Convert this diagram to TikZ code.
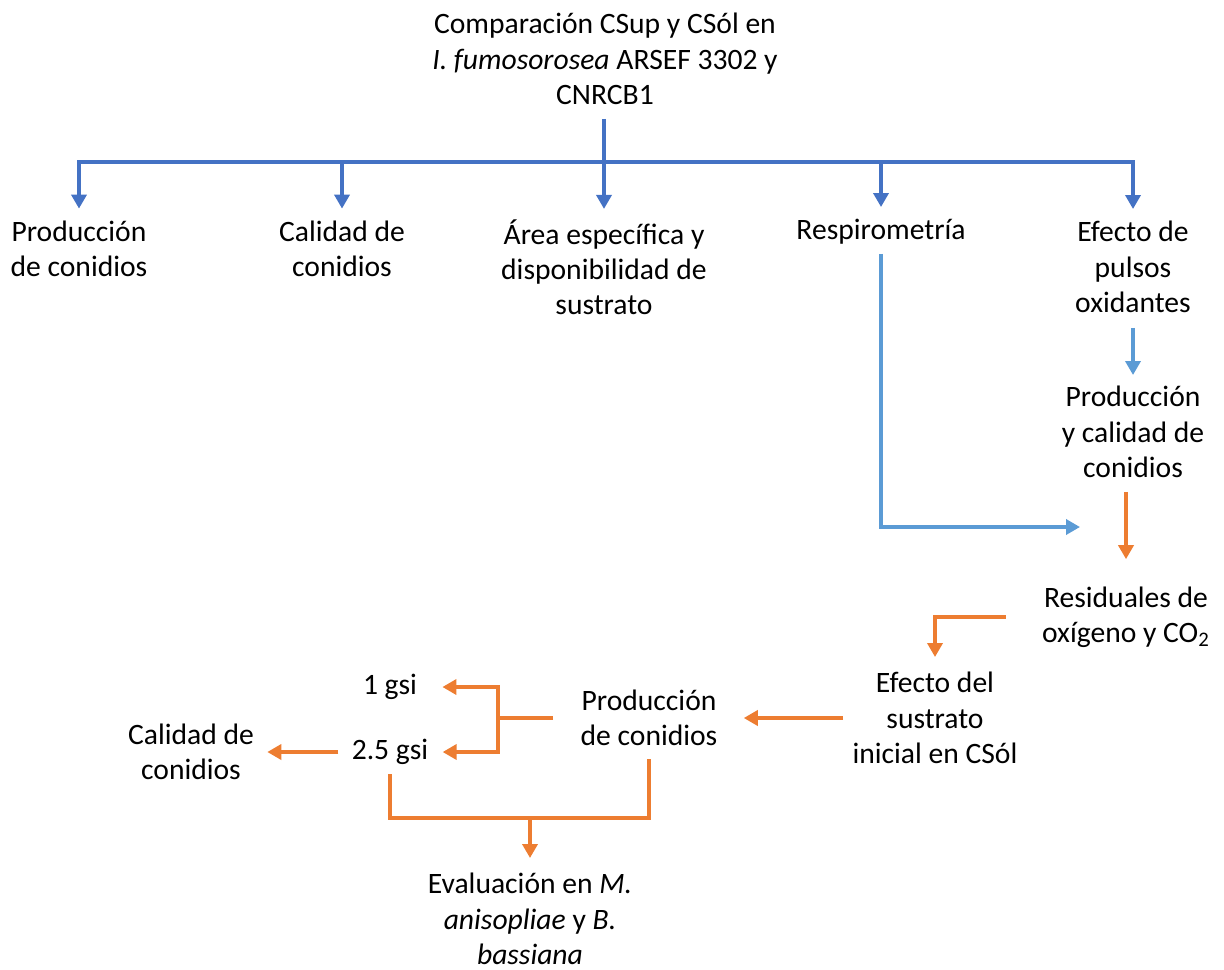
\documentclass[tikz,border=0pt]{standalone}
\usepackage{fontspec}
\setmainfont{Carlito}
\usetikzlibrary{arrows.meta}
\definecolor{darkblue}{HTML}{4472C4}
\definecolor{lightblue}{HTML}{5B9BD5}
\definecolor{orangeline}{HTML}{ED7D31}
\tikzset{
  box/.style={align=center, inner sep=0pt, font=\fontsize{14.8}{17.6}\selectfont},
  tree/.style={draw=darkblue, line width=2.1pt},
  feed/.style={draw=lightblue, line width=2.1pt},
  flow/.style={draw=orangeline, line width=2.1pt},
  tipped/.style={-{Triangle[width=7.5pt,length=7pt]}},
}
\begin{document}
\begin{tikzpicture}[x=0.5pt,y=-0.5pt]
\useasboundingbox (0,0) rectangle (1224,969);
% top level
\node[box] (title) at (605,59) {Comparación CSup y CSól en\\ \textit{I. fumosorosea} ARSEF 3302 y\\ CNRCB1};
\node[box] (prod1) at (79,249) {Producción\\ de conidios};
\node[box] (cal1) at (342,249) {Calidad de\\ conidios};
\node[box] (area) at (604,267) {Área específica y\\ disponibilidad de\\ sustrato};
\node[box] (resp) at (881,232) {Respirometría};
\node[box] (pulsos) at (1133,267) {Efecto de\\ pulsos\\ oxidantes};
% right branch
\node[box] (prodcal) at (1133,432) {Producción\\ y calidad de\\ conidios};
\node[box] (resid) at (1126,617) {Residuales de\\ oxígeno y CO\textsubscript{2}};
\node[box] (efecto) at (935,718) {Efecto del\\ sustrato\\ inicial en CSól};
\node[box] (prod2) at (649,718) {Producción\\ de conidios};
\node[box] (g1) at (390,687) {1 gsi};
\node[box] (g25) at (390,752) {2.5 gsi};
\node[box] (cal2) at (191,752) {Calidad de\\ conidios};
\node[box] (eval) at (530,919) {Evaluación en \textit{M.}\\ \textit{anisopliae} y \textit{B.}\\ \textit{bassiana}};

% tree
\coordinate (bar) at (604,162);
\draw[tree,tipped,shorten <=7pt,shorten >=5pt] (area |- title.south) -- (area.north);
\draw[tree,tipped,shorten >=6pt] (bar) -| (prod1.north);
\draw[tree,tipped,shorten >=6pt] (bar) -| (pulsos.north);
\foreach \n in {cal1,resp}
  \draw[tree,tipped,shorten >=6pt] (\n |- bar) -- (\n.north);

% feedback lines
\coordinate (feedin) at (1080,527);
\draw[feed,tipped,shorten <=4.5pt] (resp.south) |- (feedin);
\draw[feed,tipped,shorten <=7.5pt,shorten >=5.5pt] (pulsos.south) -- (prodcal.north);

% orange flow
\draw[flow,tipped,shorten <=7pt,shorten >=13.5pt] (resid |- prodcal.south) -- (resid.north);
\draw[flow,tipped,shorten <=18pt,shorten >=7.5pt] (resid.west) -| (efecto.north);
\draw[flow,tipped,shorten <=4.5pt,shorten >=13pt] (efecto.west) -- (efecto.west -| prod2.east);
\coordinate (fork) at (498,718);
\draw[flow,shorten <=13.5pt] (prod2.west) -- (fork);
\draw[flow,tipped,shorten >=12.5pt] (fork) |- (g1.east);
\draw[flow,tipped,shorten >=7pt] (fork) |- (g25.east);
\draw[flow,tipped,shorten <=6.5pt,shorten >=6.5pt] (g25.west) -- (cal2.east |- g25.west);
\coordinate (join) at (530,818);
\draw[flow,shorten <=4.5pt,shorten >=6.5pt] (g25.south) |- (join) -| (prod2.south);
\draw[flow,tipped,shorten >=7.5pt] (join) -- (eval.north);
\end{tikzpicture}
\end{document}
